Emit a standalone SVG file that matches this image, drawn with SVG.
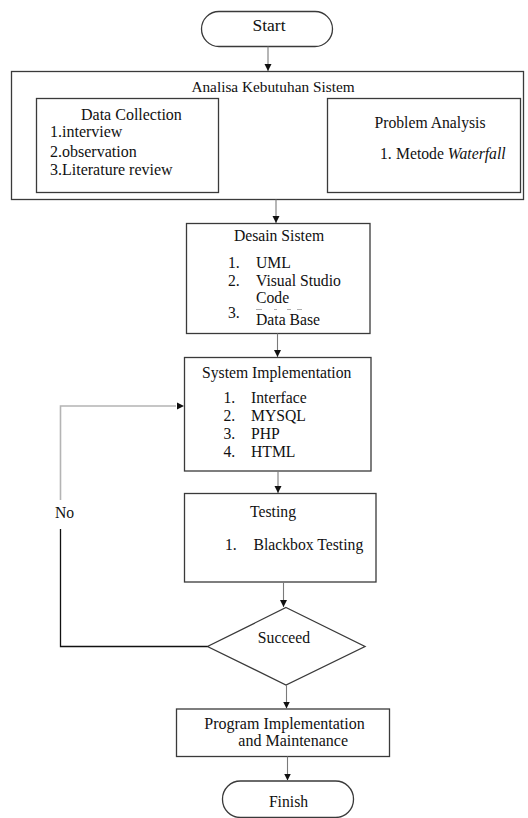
<svg xmlns="http://www.w3.org/2000/svg" width="528" height="818" viewBox="0 0 528 818" font-family="'Liberation Serif', 'DejaVu Serif', serif">
<defs>
<marker id="ah" markerWidth="8" markerHeight="8" refX="7" refY="4" orient="auto" markerUnits="userSpaceOnUse">
<path d="M0,0.5 L7,4 L0,7.5 Z" fill="#111"/>
</marker>
</defs>
<style>
text{font-family:'Liberation Serif','DejaVu Serif',serif;fill:#111;font-size:15.7px}
.box{fill:#fff;stroke:#3a3a3a;stroke-width:1.3}
.shaft{fill:none;stroke:#7a7a7a;stroke-width:1.1}
.c{text-anchor:middle}
.fb{fill:none;stroke:#111;stroke-width:1.3}
.fbg{fill:none;stroke:#b4b4b4;stroke-width:1.6}
</style>
<rect width="528" height="818" fill="#fff"/>

<g id="start">
<rect class="box" x="201.5" y="11.5" width="131" height="35" rx="17.5"/>
<text class="c" x="269" y="31" font-family="Liberation Serif, serif" style="font-size:17.5px">Start</text>
</g>

<g id="analisa">
<rect class="box" x="11.5" y="71.5" width="512" height="128"/>
<text class="c" x="273" y="92" font-family="Liberation Serif, serif" style="font-size:15.3px">Analisa Kebutuhan Sistem</text>
</g>

<g id="data-collection" font-family="Liberation Serif, serif">
<rect class="box" x="36.5" y="98.5" width="182" height="94"/>
<text x="81" y="120" style="font-size:16px">Data Collection</text>
<text x="50" y="137" style="font-size:16px">1.interview</text>
<text x="50" y="156.5" style="font-size:16px">2.observation</text>
<text x="50" y="175" style="font-size:16px">3.Literature review</text>
</g>

<g id="problem-analysis" font-family="Liberation Serif, serif">
<rect class="box" x="327.5" y="98.5" width="193" height="94"/>
<text class="c" x="430" y="128">Problem Analysis</text>
<text x="380" y="159">1.</text>
<text x="396" y="159">Metode <tspan font-style="italic">Waterfall</tspan></text>
</g>

<g id="desain" font-family="Liberation Serif, serif">
<rect class="box" x="186.5" y="223.5" width="183.5" height="110"/>
<text class="c" x="279" y="241">Desain Sistem</text>
<text x="228" y="268">1.</text><text x="256" y="268">UML</text>
<text x="228" y="286">2.</text><text x="256" y="286">Visual Studio</text>
<text x="256" y="302.5">Code</text>
<text x="228" y="318">3.</text><text x="256" y="324.5">Data Base</text>
<path d="M256,309.5 H262 M274,309.5 H277 M287,309.5 H291 M297,309.5 H302" stroke="#9a9a9a" stroke-width="0.8"/>
</g>

<g id="system-implementation" font-family="Liberation Serif, serif">
<rect class="box" x="184.5" y="357.5" width="186.5" height="113.5"/>
<text class="c" x="276.7" y="378">System Implementation</text>
<text x="223.5" y="403">1.</text><text x="251" y="403">Interface</text>
<text x="223.5" y="420.5">2.</text><text x="251" y="420.5">MYSQL</text>
<text x="223.5" y="438.5">3.</text><text x="251" y="438.5">PHP</text>
<text x="223.5" y="456.5">4.</text><text x="251" y="456.5">HTML</text>
</g>

<g id="testing" font-family="Liberation Serif, serif">
<rect class="box" x="184.5" y="493.5" width="191.5" height="88.5"/>
<text class="c" x="273" y="516.5">Testing</text>
<text x="225" y="550">1.</text><text x="253.5" y="550">Blackbox Testing</text>
</g>

<g id="succeed" font-family="Liberation Serif, serif">
<path class="box" d="M286,607.5 L365,646.5 L286,685 L207.5,646.5 Z"/>
<text class="c" x="284" y="643">Succeed</text>
</g>

<g id="program-implementation" font-family="Liberation Serif, serif">
<rect class="box" x="176.5" y="709" width="213" height="47.5"/>
<text x="204.3" y="728.5" style="font-size:16px">Program Implementation</text>
<text x="238.3" y="746" style="font-size:16px">and Maintenance</text>
</g>

<g id="finish" font-family="Liberation Serif, serif">
<rect class="box" x="222.5" y="781" width="131" height="36.5" rx="18"/>
<text class="c" x="288.5" y="806.5">Finish</text>
</g>

<g id="connectors" font-family="Liberation Serif, serif">
<line class="shaft" x1="268" y1="46.5" x2="268" y2="71" marker-end="url(#ah)"/>
<line class="shaft" x1="276" y1="199.5" x2="276" y2="223" marker-end="url(#ah)"/>
<line class="shaft" x1="277.5" y1="333.5" x2="277.5" y2="357" marker-end="url(#ah)"/>
<line class="shaft" x1="278" y1="471" x2="278" y2="493" marker-end="url(#ah)"/>
<line class="shaft" x1="283.5" y1="582" x2="283.5" y2="607" marker-end="url(#ah)"/>
<line class="shaft" x1="286.5" y1="685" x2="286.5" y2="708.5" marker-end="url(#ah)"/>
<line class="shaft" x1="287.5" y1="756.5" x2="287.5" y2="780.5" marker-end="url(#ah)"/>
<path class="fb" d="M207.5,646.5 H60.5 V529"/>
<path class="fbg" d="M60.5,500 V406 H176"/>
<path d="M177,402.5 L184,406 L177,409.5 Z" fill="#111"/>
<text x="55" y="517.5">No</text>
</g>
</svg>
